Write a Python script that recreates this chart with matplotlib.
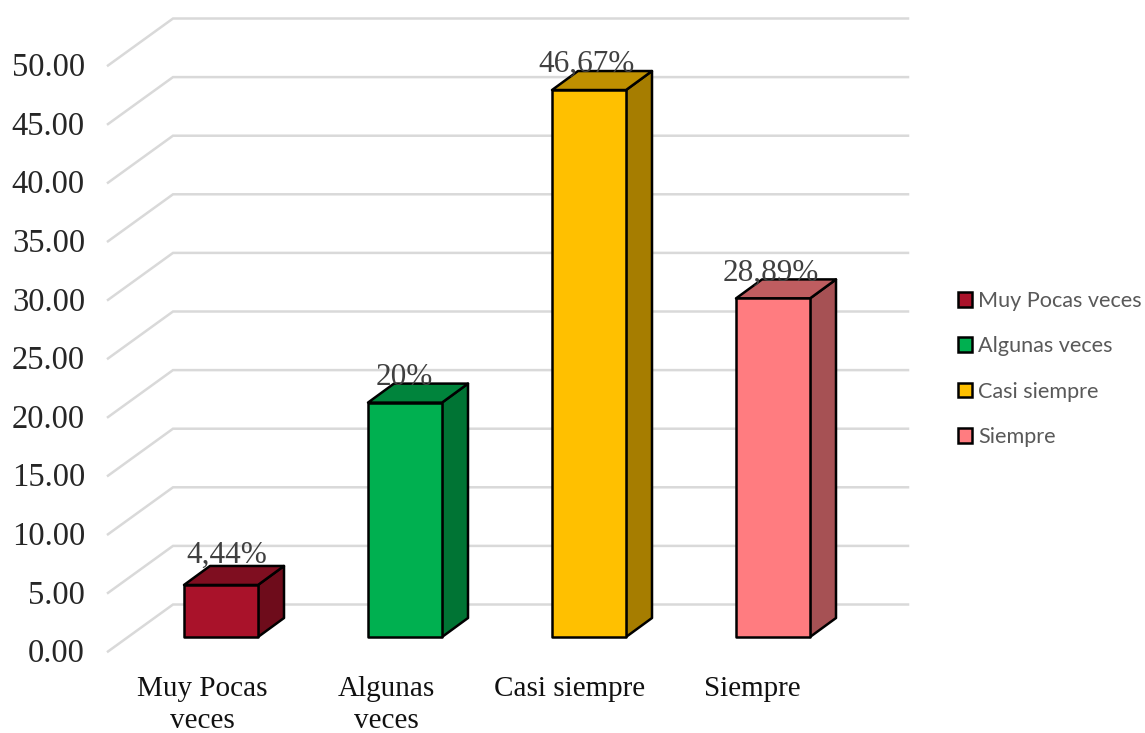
import matplotlib
matplotlib.use("Agg")
import matplotlib.pyplot as plt
from matplotlib.patches import Polygon, Patch

categories = ["Muy Pocas\nveces", "Algunas\nveces", "Casi siempre", "Siempre"]
legend_names = ["Muy Pocas veces", "Algunas veces", "Casi siempre", "Siempre"]
values = [4.44, 20, 46.67, 28.89]
value_labels = ["4,44%", "20%", "46,67%", "28,89%"]
front_colors = ["#A9122A", "#00B050", "#FFC000", "#FF7C80"]
top_colors = ["#7F0E20", "#00843C", "#BF9000", "#BF5D60"]
side_colors = ["#6E0C1B", "#007434", "#A67D00", "#A65154"]
y_ticks = [0, 5, 10, 15, 20, 25, 30, 35, 40, 45, 50]

# Scale of the canvas: one category is 184 px wide, one value unit 11.72 px tall.
PX_X = 184.0
PX_Y = 11.72
W, H = 1145, 733
X0, Y0 = 221.0, 637.0

fig = plt.figure(figsize=(W / 100, H / 100), dpi=100)
ax = fig.add_axes([0, 0, 1, 1])
ax.set_xlim(-X0 / PX_X, (W - X0) / PX_X)
ax.set_ylim((Y0 - H) / PX_Y, Y0 / PX_Y)
ax.axis("off")

half_w = 37 / PX_X
depth_x = 26 / PX_X
depth_y = 19 / PX_Y

# Hand-placed label nudges, in pixels, so the labels clear the column tops
label_dx = [5.5, -1, -2, -2]
label_dy = [8, 4, 4, 4]
name_dx = [-19, -19, -19, -21]

# Back wall gridlines and their diagonal runs along the side wall
wall_x = (173 - X0) / PX_X
front_x = (108 - X0) / PX_X
right_x = (908 - X0) / PX_X
back_rise = (637 - 604.5) / PX_Y
front_drop = (651.5 - 637) / PX_Y
for t in y_ticks:
    yb = t + back_rise
    ax.plot([front_x, wall_x, right_x], [t - front_drop, yb, yb],
            color="#D9D9D9", lw=1.8, solid_joinstyle="miter", zorder=1)
    ax.text((85 - X0) / PX_X, t - front_drop - 2.5 / PX_Y, f"{t:.2f}", ha="right", va="center",
            family="Liberation Serif", fontsize=23.5, color="#262626", zorder=5)

# Three visible faces of each column
for i, v in enumerate(values):
    l, r = i - half_w, i + half_w
    edge = dict(edgecolor="black", linewidth=1.8, joinstyle="round", zorder=3)
    ax.add_patch(Polygon([(r, 0), (r + depth_x, depth_y), (r + depth_x, v + depth_y), (r, v)],
                         facecolor=side_colors[i], **edge))
    ax.add_patch(Polygon([(l, v), (r, v), (r + depth_x, v + depth_y), (l + depth_x, v + depth_y)],
                         facecolor=top_colors[i], **edge))
    ax.add_patch(Polygon([(l, 0), (r, 0), (r, v), (l, v)],
                         facecolor=front_colors[i], **edge))
    ax.text(i + label_dx[i] / PX_X, v + 1.2 + label_dy[i] / PX_Y, value_labels[i],
            ha="center", va="baseline",
            family="Liberation Serif", fontsize=22.5, color="#404040", zorder=4)

    # Category names sit under the floor
    ax.text(i + name_dx[i] / PX_X, -3.35, categories[i], ha="center", va="top", linespacing=1.28,
            family="Liberation Serif", fontsize=21, color="#111111", zorder=5)

handles = [Patch(facecolor=c, edgecolor="black", linewidth=1.8) for c in front_colors]
ax.legend(handles, legend_names, loc="center left", bbox_to_anchor=(957.5 / W, 1 - 369 / H),
          bbox_transform=fig.transFigure, frameon=False, handlelength=0.68, handleheight=0.68,
          handletextpad=0.26, labelspacing=1.16, borderpad=0, borderaxespad=0,
          prop={"family": "Lato", "size": 15.6}, labelcolor="#595959")

fig.savefig("out.png", dpi=100)
